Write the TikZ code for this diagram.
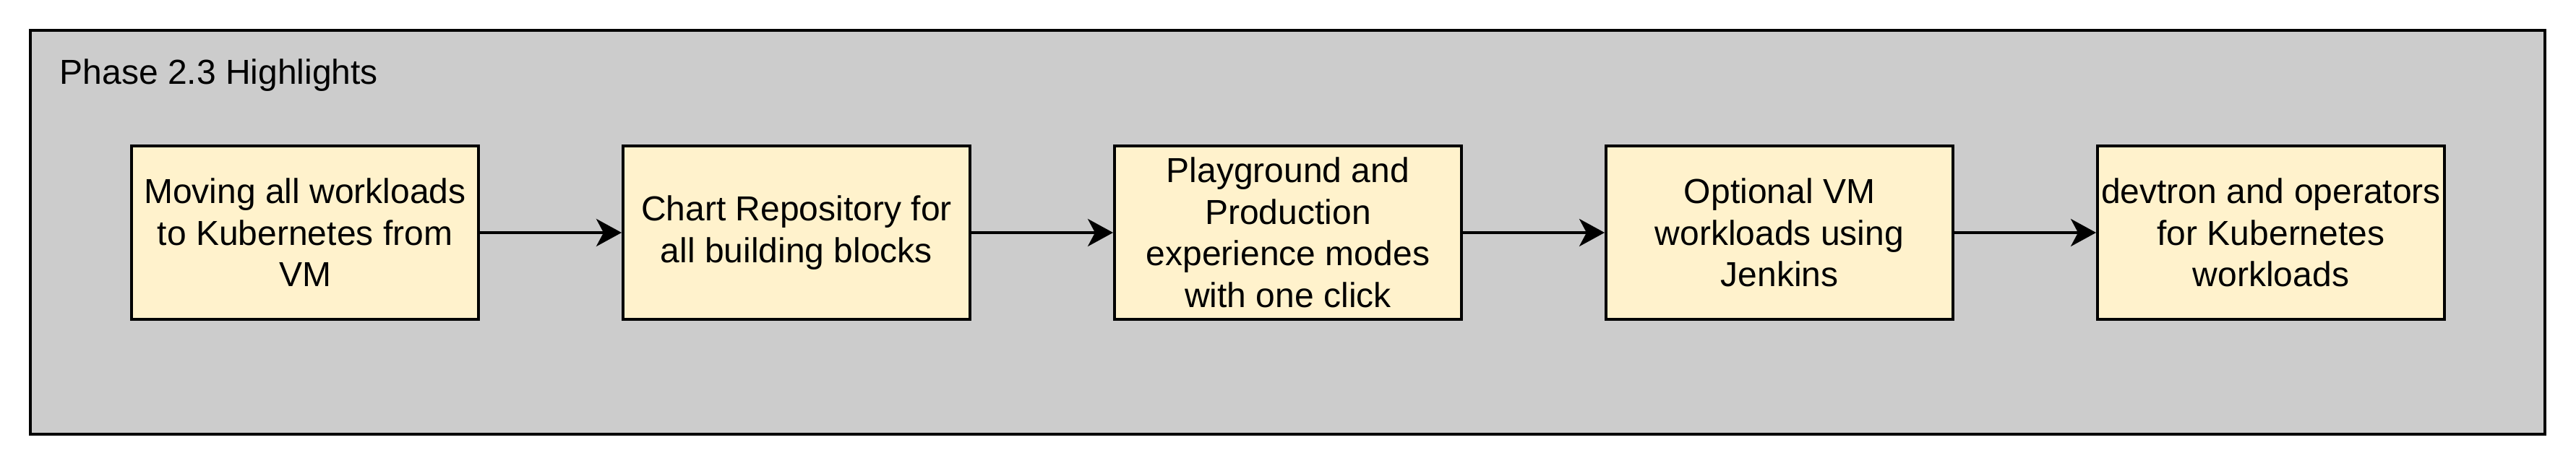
\documentclass[tikz,border=0pt]{standalone}
\usepackage{fontspec}
\setmainfont{Liberation Sans}
\usetikzlibrary{arrows.meta,positioning}
\definecolor{phsInk}{RGB}{0,0,0}
\definecolor{phsPanel}{HTML}{CCCCCC}
\definecolor{phsNote}{HTML}{FFF2CC}
\begin{document}
\begin{tikzpicture}[x=1pt,y=1pt]
\tikzset{
panel/.style={draw=phsInk,fill=phsPanel,line width=1pt,minimum width=869.75pt,minimum height=139.75pt,inner sep=0pt},
item/.style={draw=phsInk,fill=phsNote,line width=1pt,minimum width=120pt,minimum height=60pt,inner sep=0pt,
font=\fontsize{12}{14.4}\selectfont,text=phsInk,align=center},
title/.style={font=\fontsize{12}{14.4}\selectfont,text=phsInk,anchor=base west,inner sep=0pt},
flow/.style={draw=phsInk,line width=1pt,-{Stealth[length=8.75pt,width=9.5pt,inset=2.5pt]}}
}
\useasboundingbox (0,0) rectangle (891,161);
\node[panel] (phase) at (445.4,80.6) {};
\node[title] (head) at (20.5,131.8) {Phase 2.3 Highlights};
\foreach \i/\lab in {1/{Moving all workloads\\to Kubernetes from\\VM},2/{Chart Repository for\\all building blocks},
  3/{Playground and\\Production\\experience modes\\with one click},4/{Optional VM\\workloads using\\Jenkins},
  5/{devtron and operators\\for Kubernetes\\workloads}}
  \node[item] (b\i) at (105.5+170*\i-170,80.5) {\lab};
\foreach \i/\j in {1/2,2/3,3/4,4/5} \draw[flow] (b\i) -- (b\j);
\end{tikzpicture}
\end{document}
